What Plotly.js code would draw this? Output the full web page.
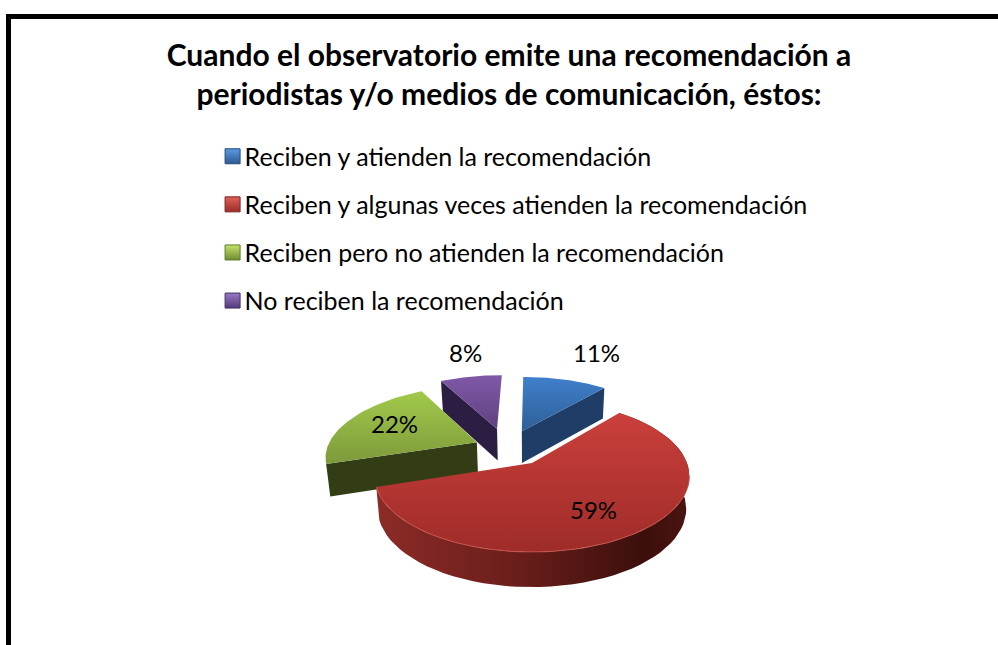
<!DOCTYPE html>
<html>
<head>
<meta charset="utf-8">
<script src="https://cdn.plot.ly/plotly-3.0.1.min.js"></script>
<style>
html, body { margin: 0; padding: 0; background: #fff; }
#plot { width: 998px; height: 645px; }
</style>
</head>
<body>
<div id="plot"></div>
<script>
var titleText = 'Cuando el observatorio emite una recomendación a<br>periodistas y/o medios de comunicación, éstos:';
var categories = [
    'Reciben y atienden la recomendación',
    'Reciben y algunas veces atienden la recomendación',
    'Reciben pero no atienden la recomendación',
    'No reciben la recomendación'
];
var values = [11, 59, 22, 8];

var legendColors = ['#5b9be0', '#e0605a', '#c4e36a', '#9a78c8'];
var legendEdges = ['#234a78', '#7a2220', '#5f7a2a', '#43305f'];
var legendLow = ['#2c5a94', '#9a2c29', '#6f8c30', '#533a78'];
var topFrom = ['#3f7fcb', '#cb3f3b', '#a2c94b', '#8059a8'];
var topTo = ['#2f5f97', '#9e2c29', '#7d9a3b', '#5f417f'];
var wallColors = ['#1f3d66', '#5a1a17', '#333d15', '#2c1d42'];

// how far each slice is pulled out of the pie, in px on the pie plane
var pullX = [-11, 0, -58, -38];
var pullY = [72, 0, 46, 78];
var labelX = [596, 593, 394, 465];
var labelY = [352, 509, 423, 352];

// pie view: tilt and perspective
var cx = 532, cy = 463, radius = 155, tilt = 0.475, persp = 0.173;

function project(i, deg, r, bottom) {
    var a = deg * Math.PI / 180;
    var wx = pullX[i] + r * Math.sin(a);
    var wy = pullY[i] + r * Math.cos(a);
    var s = 1 / (1 + persp * wy / radius);
    var x = wx * s, y = -tilt * wy * s;
    if (bottom) {
        x = x * 0.98;
        y = y + 20 + 12.5 * s;
    }
    return [cx + x, cy + y];
}

function poly(pts, from, to, kind) {
    return {
        x: pts.map(function (p) { return p[0]; }),
        y: pts.map(function (p) { return p[1]; }),
        mode: 'lines',
        line: { width: 0 },
        fill: 'toself',
        fillcolor: from,
        fillgradient: {
            type: kind,
            colorscale: [[0, from], [1, to]]
        },
        hoverinfo: 'skip',
        showlegend: false
    };
}

function arc(i, a0, a1, bottom) {
    var pts = [];
    var n = 60;
    for (var k = 0; k <= n; k++) {
        pts.push(project(i, a0 + (a1 - a0) * k / n, radius, bottom));
    }
    return pts;
}

var total = values.reduce(function (a, b) { return a + b; }, 0);
var starts = [];
var run = 0;
values.forEach(function (v) {
    starts.push(run / total * 360);
    run += v;
});
var ends = values.map(function (v, i) { return starts[i] + v / total * 360; });

var data = [];

// which slice edge shows a cut wall: blue -> its end, green -> its start, purple -> its start
function wall(i, deg) {
    var apexTop = project(i, 0, 0, false);
    var apexBot = project(i, 0, 0, true);
    var rimTop = project(i, deg, radius, false);
    var rimBot = project(i, deg, radius, true);
    return {
        x: [apexTop[0], rimTop[0], rimBot[0], apexBot[0], apexTop[0]],
        y: [apexTop[1], rimTop[1], rimBot[1], apexBot[1], apexTop[1]],
        mode: 'lines',
        line: { width: 0 },
        fill: 'toself',
        fillcolor: wallColors[i],
        hoverinfo: 'skip',
        showlegend: false
    };
}

function topFace(i) {
    var pts = [project(i, 0, 0, false)].concat(arc(i, starts[i], ends[i], false));
    pts.push(pts[0]);
    return poly(pts, topTo[i], topFrom[i], 'vertical');
}

// back slices first, red goes last so it sits over the green wall
data.push(wall(3, starts[3]));
data.push(topFace(3));
data.push(wall(0, ends[0]));
data.push(topFace(0));
data.push(wall(2, starts[2]));
data.push(topFace(2));

var rim = arc(1, starts[1], ends[1], false).concat(arc(1, ends[1], starts[1], true));
rim.push(rim[0]);
var rimTrace = poly(rim, '#8c2b27', '#3a0f0c', 'horizontal');
rimTrace.fillgradient.colorscale = [[0, '#8c2b27'], [0.45, '#6a1e1b'], [0.85, '#3c0f0c'], [1, '#4a1411']];
data.push(rimTrace);
data.push(topFace(1));

// pale edge on the front of the red top
var edge = arc(1, 100, ends[1], false);
data.push({
    x: edge.map(function (p) { return p[0]; }),
    y: edge.map(function (p) { return p[1]; }),
    mode: 'lines',
    line: { color: '#c4524d', width: 1 },
    hoverinfo: 'skip',
    showlegend: false
});

// legend entries
categories.forEach(function (c, i) {
    data.push({
        x: [null],
        y: [null],
        name: c,
        legendgroup: 'g' + i,
        mode: 'markers',
        marker: {
            symbol: 'square',
            size: 15,
            color: legendColors[i],
            gradient: { type: 'vertical', color: legendLow[i] },
            line: { color: legendEdges[i], width: 1 }
        },
        hoverinfo: 'skip'
    });
});

var labels = values.map(function (v, i) {
    return {
        x: labelX[i],
        y: labelY[i],
        text: v + '%',
        showarrow: false,
        font: { family: 'Lato', size: 24, color: '#000' }
    };
});

var layout = {
    width: 998,
    height: 645,
    margin: { l: 0, r: 0, t: 0, b: 0 },
    paper_bgcolor: '#fff',
    plot_bgcolor: '#fff',
    font: { family: 'Lato', color: '#000' },
    title: {
        text: titleText,
        font: { family: 'Lato', size: 30, weight: 700, color: '#000' },
        x: 0.51,
        xanchor: 'center',
        y: 0.898,
        yanchor: 'top'
    },
    xaxis: { range: [0, 998], visible: false, fixedrange: true },
    yaxis: { range: [645, 0], visible: false, fixedrange: true },
    showlegend: true,
    legend: {
        x: 0.205,
        xanchor: 'left',
        y: 0.793,
        yanchor: 'top',
        font: { family: 'Lato', size: 25, color: '#000' },
        tracegroupgap: 12.6,
        bgcolor: 'rgba(0,0,0,0)'
    },
    annotations: labels,
    shapes: [
        { type: 'rect', xref: 'x', yref: 'y', x0: 6, x1: 11, y0: 14, y1: 645, fillcolor: '#000', line: { width: 0 } },
        { type: 'rect', xref: 'x', yref: 'y', x0: 6, x1: 998, y0: 14, y1: 19, fillcolor: '#000', line: { width: 0 } }
    ]
};

Plotly.newPlot(document.getElementById('plot'), data, layout, { displayModeBar: false, responsive: false }).then(function () {
    // legend swatches sit closer to the text than plotly's minimum itemwidth allows
    document.querySelectorAll('#plot .legendpoints').forEach(function (g) {
        g.setAttribute('transform', 'translate(8,0)');
    });
});
</script>
</body>
</html>
